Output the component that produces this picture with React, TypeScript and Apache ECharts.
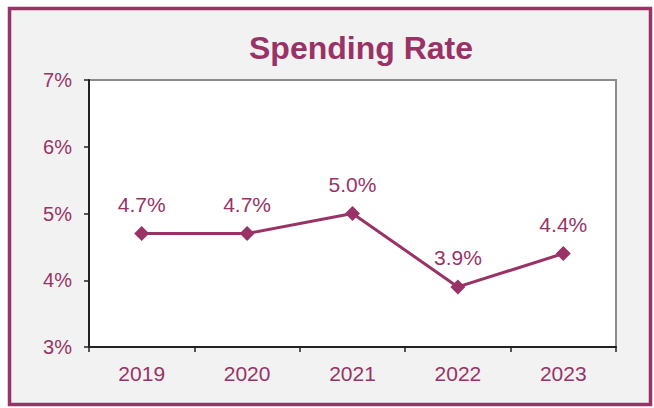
import React, { useEffect, useRef } from "react";
import * as echarts from "echarts";

const categories = ["2019", "2020", "2021", "2022", "2023"];
const spendingRate = [4.7, 4.7, 5.0, 3.9, 4.4];
const yTicks = { min: 3, max: 7, interval: 1 };

const PURPLE = "#993366";
const FONT = "Liberation Sans, Arial, sans-serif";

export default function App() {
  const ref = useRef<HTMLDivElement>(null);
  useEffect(() => {
    const chart = echarts.init(ref.current!, null, { renderer: "svg" });
    chart.setOption({
      animation: false,
      backgroundColor: "#ffffff",
      title: {
        text: "Spending Rate",
        left: 356,
        top: 43,
        textAlign: "center",
        textVerticalAlign: "middle",
        textStyle: { color: PURPLE, fontSize: 32, fontWeight: "bold", fontFamily: FONT },
      },
      graphic: [
        {
          type: "rect",
          z: -10,
          silent: true,
          shape: { x: 9.5, y: 8.5, width: 641, height: 396 },
          style: { fill: "#f2f2f2", stroke: PURPLE, lineWidth: 3.5 },
        },
      ],
      grid: {
        left: 89,
        top: 80,
        right: 38,
        bottom: 61,
        show: true,
        backgroundColor: "#ffffff",
        borderColor: "#8c8c8c",
        borderWidth: 2,
      },
      xAxis: {
        type: "category",
        data: categories,
        boundaryGap: true,
        axisLine: { lineStyle: { color: "#222222", width: 2 } },
        axisTick: { show: true, length: 5, lineStyle: { color: "#222222", width: 1.5 } },
        axisLabel: { color: PURPLE, fontSize: 21, fontFamily: FONT, margin: 16 },
        splitLine: { show: false },
      },
      yAxis: {
        type: "value",
        min: yTicks.min,
        max: yTicks.max,
        interval: yTicks.interval,
        axisLine: { show: true, lineStyle: { color: "#222222", width: 2 } },
        axisTick: { show: true, length: 5, lineStyle: { color: "#222222", width: 1.5 } },
        axisLabel: { color: PURPLE, fontSize: 20, fontFamily: FONT, margin: 17, formatter: "{value}%" },
        splitLine: { show: false },
      },
      series: [
        {
          type: "line",
          data: spendingRate,
          symbol: "diamond",
          symbolSize: 15,
          itemStyle: { color: PURPLE },
          lineStyle: { color: PURPLE, width: 3 },
          label: {
            show: true,
            position: "top",
            distance: 11,
            color: PURPLE,
            fontSize: 21,
            fontFamily: FONT,
            formatter: (p: any) => p.value.toFixed(1) + "%",
          },
        },
      ],
    });
    return () => chart.dispose();
  }, []);
  return (
    <div
      ref={ref}
      style={{ position: "fixed", left: 0, top: 0, width: 654, height: 408 }}
    />
  );
}
